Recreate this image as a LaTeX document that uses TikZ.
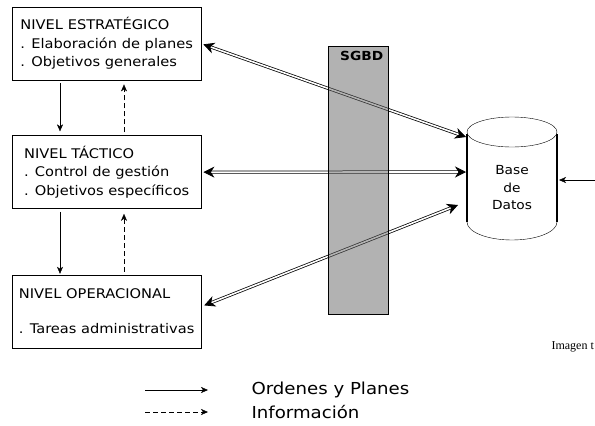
\documentclass[tikz,border=0pt]{standalone}
\usepackage{fontspec}
\setmainfont{DejaVu Sans}[FakeStretch=1.1]
\newfontfamily\notafont{Liberation Serif}
\usetikzlibrary{arrows.meta, positioning}

\begin{document}
\begin{tikzpicture}[
    x=1pt, y=-1pt,
    node distance=55pt,
    nivel/.style={
        rectangle,
        draw=black,
        minimum width=189pt,
        minimum height=73pt,
        align=left,
        font=\fontsize{13.3}{18.5}\selectfont
    },
    orden/.style={
        -{Stealth[length=7pt,width=6pt,inset=2pt]},
        black
    },
    info/.style={
        orden,
        dash pattern=on 5pt off 3pt
    },
    enlace/.style={
        {Stealth[length=11pt,width=11pt,inset=3.5pt]}-{Stealth[length=11pt,width=11pt,inset=3.5pt]},
        double, double distance=1.6pt, line width=0.75pt
    },
    leyenda/.style={
        anchor=west,
        font=\fontsize{16.5}{20}\selectfont
    }
]

\useasboundingbox (0,0) rectangle (595,426);

% niveles
\node[nivel, anchor=north west] (estrategico) at (12,7)
    {NIVEL ESTRATÉGICO\\. Elaboración de planes\\. Objetivos generales};
\node[nivel, below=55pt of estrategico] (tactico)
    {NIVEL TÁCTICO\\. Control de gestión\\. Objetivos específicos};
\node[nivel, below=66pt of tactico] (operacional)
    {NIVEL OPERACIONAL\\[16.5pt]. Tareas administrativas};

\draw[orden, shorten <=3pt, shorten >=4pt]
    ([xshift=48pt]estrategico.south west) -- ([xshift=48pt]tactico.north west);
\draw[info, shorten <=3pt, shorten >=4pt]
    ([xshift=112pt]tactico.north west) -- ([xshift=112pt]estrategico.south west);
\draw[orden, shorten <=3pt, shorten >=1pt]
    ([xshift=48pt]tactico.south west) -- ([xshift=48pt]operacional.north west);
\draw[info, shorten <=3pt, shorten >=5pt]
    ([xshift=112pt]operacional.north west) -- ([xshift=112pt]tactico.south west);

% base de datos
\draw (512,132) ellipse [x radius=45pt, y radius=15pt];
\draw[line width=1.8pt] (467,134) -- (467,222);
\draw[line width=1.8pt] (557,134) -- (557,222);
\draw (467,222) arc[start angle=180, end angle=360, x radius=45pt, y radius=18pt];
\node[align=center, font=\fontsize{12.5}{17.5}\selectfont] (bd) at (512,188) {Base\\de\\Datos};

\coordinate (bd1) at (466,137);
\coordinate (bd2) at (466,172);
\coordinate (bd3) at (458,205);
\coordinate (bd4) at (559,180);
\coordinate (entrada) at (595,180);

\draw[enlace, shorten <=2pt] (estrategico.east) -- (bd1);
\draw[enlace, shorten <=2pt] (tactico.east) -- (bd2);
\draw[enlace, shorten <=3pt] ([yshift=5pt]operacional.east) -- (bd3);
\draw[orden] (entrada) -- (bd4);

% SGBD
\node[draw=black, fill=black!60, fill opacity=0.5, minimum width=60pt, minimum height=268pt,
    anchor=north west] (sgbd) at (328,46) {};
\node[anchor=north east, inner sep=5pt, font=\fontsize{12.5}{14}\selectfont\bfseries]
    (sgbdtxt) at (sgbd.north east) {SGBD};

% leyenda
\node[leyenda] (ordenes) at (248,390) {Ordenes y Planes};
\node[leyenda] (informacion) at (248,412) {Información};
\coordinate (ley1) at (145,390);
\coordinate (ley2) at (145,412);
\draw[orden] (ley1) -- ++(63,0);
\draw[info] (ley2) -- ++(63,0);

\node[anchor=west, font=\notafont\fontsize{12}{13}\selectfont] (nota) at (548,347) {Imagen t};

\end{tikzpicture}
\end{document}
